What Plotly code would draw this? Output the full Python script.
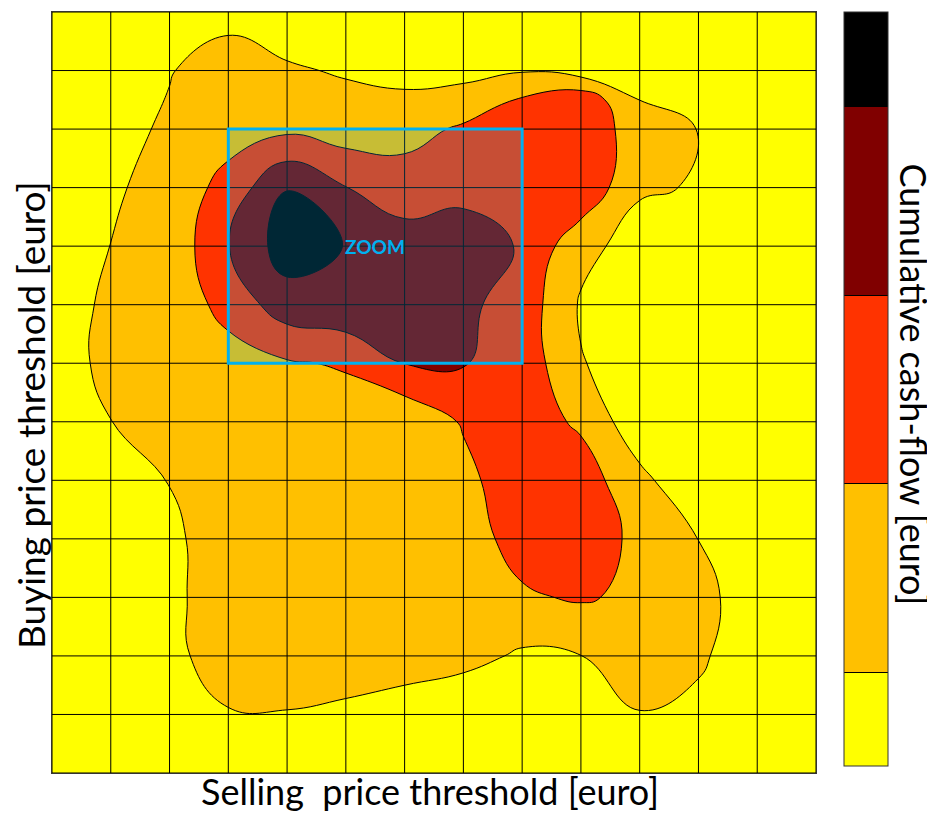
import plotly.graph_objects as go

# grid node positions (selling price threshold along x, buying price threshold rows from top)
sell_nodes = [0, 1, 2, 3, 4, 5, 6, 7, 8, 9, 10, 11, 12, 13]
buy_nodes = [0, 1, 1.5, 2, 3, 4, 5, 6, 7, 8, 9, 10, 11, 12, 13]
grid_ticks = list(range(14))

# cumulative cash-flow values read at the grid nodes (first row = top of the chart)
cash_r00 = [0.10, 0.20, 0.45, 0.667, 0.50, 0.45, 0.40, 0.40, 0.45, 0.45, 0.40, 0.30, 0.20, 0.10]
cash_r01 = [0.20, 0.45, 0.944, 1.50, 1.10, 0.918, 0.73, 0.725, 0.93, 0.52, 0.524, 0.35, 0.20, 0.10]
cash_r015 = [0.20, 0.50, 1.05, 1.55, 1.45, 1.20, 1.15, 1.35, 2.10, 2.69, 0.99, 0.60, 0.30, 0.15]
cash_r02 = [0.20, 0.50, 1.225, 1.60, 1.80, 1.50, 1.60, 2.16, 2.85, 2.75, 1.457, 0.98, 0.50, 0.20]
cash_r03 = [0.35, 0.856, 1.37, 2.34, 3.97, 3.02, 2.55, 2.68, 2.80, 2.82, 1.112, 0.94, 0.45, 0.20]
cash_r04 = [0.50, 1.01, 1.27, 2.97, 4.50, 3.97, 3.40, 3.57, 2.90, 1.30, 0.60, 0.30, 0.20, 0.10]
cash_r05 = [0.486, 1.20, 1.34, 2.34, 3.55, 3.80, 3.60, 3.20, 2.593, 0.898, 0.50, 0.30, 0.20, 0.10]
cash_r06 = [0.536, 1.25, 1.40, 1.58, 1.90, 2.10, 3.02, 3.05, 2.633, 1.05, 0.55, 0.30, 0.20, 0.10]
cash_r07 = [0.40, 0.99, 1.30, 1.45, 1.55, 1.50, 1.20, 2.10, 2.50, 1.84, 0.313, 0.20, 0.15, 0.10]
cash_r08 = [0.30, 0.60, 1.02, 1.35, 1.45, 1.50, 1.45, 1.70, 2.70, 2.50, 1.28, 0.16, 0.10, 0.05]
cash_r09 = [0.20, 0.50, 0.883, 1.30, 1.40, 1.45, 1.50, 1.60, 2.34, 2.50, 1.786, 0.99, 0.40, 0.20]
cash_r10 = [0.20, 0.50, 0.871, 1.30, 1.45, 1.50, 1.55, 1.65, 1.88, 2.10, 1.80, 1.30, 0.49, 0.20]
cash_r11 = [0.20, 0.50, 0.865, 1.25, 1.35, 1.40, 1.40, 1.333, 0.857, 0.99, 1.40, 1.10, 0.60, 0.20]
cash_r12 = [0.15, 0.30, 0.50, 0.966, 0.97, 0.85, 0.60, 0.18, 0.50, 0.60, 0.97, 0.84, 0.50, 0.20]
cash_r13 = [0.10, 0.20, 0.30, 0.50, 0.50, 0.45, 0.40, 0.20, 0.30, 0.40, 0.50, 0.45, 0.30, 0.10]

cash_flow = [cash_r00, cash_r01, cash_r015, cash_r02, cash_r03, cash_r04, cash_r05, cash_r06,
             cash_r07, cash_r08, cash_r09, cash_r10, cash_r11, cash_r12, cash_r13]

band_colors = ["#FFFF00", "#FFC000", "#FF3300", "#800000", "#000000"]
level_start, level_end, level_step = 1, 4, 1

zoom_x = [3, 8]
zoom_y = [2, 6]
zoom_label_pos = [5.5, 4.0]

# step colorscale: one flat colour per band
n = len(band_colors)
colorscale = []
for i, col in enumerate(band_colors):
    lo = 0 if i == 0 else (i - 0.5) / (n - 1)
    hi = 1 if i == n - 1 else (i + 0.5) / (n - 1)
    colorscale.append([lo, col])
    colorscale.append([hi, col])

fig = go.Figure()
fig.add_trace(go.Contour(
    x=sell_nodes, y=buy_nodes, z=cash_flow,
    colorscale=colorscale,
    contours=dict(start=level_start, end=level_end, size=level_step,
                  coloring="fill", showlines=True),
    line=dict(color="black", width=1, smoothing=1.3),
    hoverinfo="skip",
    colorbar=dict(
        x=1.037, xanchor="left", xpad=0,
        y=1, yanchor="top", ypad=0,
        len=0.9908, lenmode="fraction",
        thickness=44,
        outlinewidth=1, outlinecolor="#333333",
        showticklabels=False, ticks="",
    ),
))

shapes = []
for t in grid_ticks:
    shapes.append(dict(type="line", xref="x", yref="y", x0=t, x1=t,
                       y0=grid_ticks[0], y1=grid_ticks[-1], layer="above",
                       line=dict(color="black", width=1)))
    shapes.append(dict(type="line", xref="x", yref="y", y0=t, y1=t,
                       x0=grid_ticks[0], x1=grid_ticks[-1], layer="above",
                       line=dict(color="black", width=1)))
shapes.append(dict(type="rect", xref="x", yref="y",
                   x0=zoom_x[0], x1=zoom_x[1], y0=zoom_y[0], y1=zoom_y[1],
                   layer="above", fillcolor="rgba(0,176,240,0.22)",
                   line=dict(color="#00B0F0", width=3)))

font_family = "Lato, Open Sans, sans-serif"

# the page body adds an 8px offset, so the figure is sized to end at the window edge
fig.update_layout(
    width=927, height=806,
    margin=dict(l=44, r=119, t=4, b=41),
    paper_bgcolor="white", plot_bgcolor="white",
    showlegend=False,
    shapes=shapes,
    xaxis=dict(range=[grid_ticks[0], grid_ticks[-1]], showgrid=False, zeroline=False,
               showticklabels=False, ticks="", showline=True, mirror=True,
               linecolor="#333333", linewidth=1),
    yaxis=dict(range=[grid_ticks[-1], grid_ticks[0]], showgrid=False, zeroline=False,
               showticklabels=False, ticks="", showline=True, mirror=True,
               linecolor="#333333", linewidth=1),
    annotations=[
        dict(text="Selling\u00a0 price threshold [euro]", xref="paper", yref="paper",
             x=0.4948, y=-0.0234, xanchor="center", yanchor="middle",
             showarrow=False, font=dict(family=font_family, size=36, color="black")),
        dict(text="Buying price threshold [euro]", xref="paper", yref="paper",
             x=-0.0288, y=0.4704, xanchor="center", yanchor="middle", textangle=-90,
             showarrow=False, font=dict(family=font_family, size=37, color="black")),
        dict(text="Cumulative cash-flow [euro]", xref="paper", yref="paper",
             x=1.1283, y=0.5105, xanchor="center", yanchor="middle", textangle=90,
             showarrow=False, font=dict(family=font_family, size=36, color="black")),
        dict(text="<b>ZOOM</b>", xref="x", yref="y",
             x=zoom_label_pos[0], y=zoom_label_pos[1], xanchor="center", yanchor="middle",
             showarrow=False, font=dict(family=font_family, size=19, color="#00B0F0")),
    ],
)

fig.write_html("out.html")
